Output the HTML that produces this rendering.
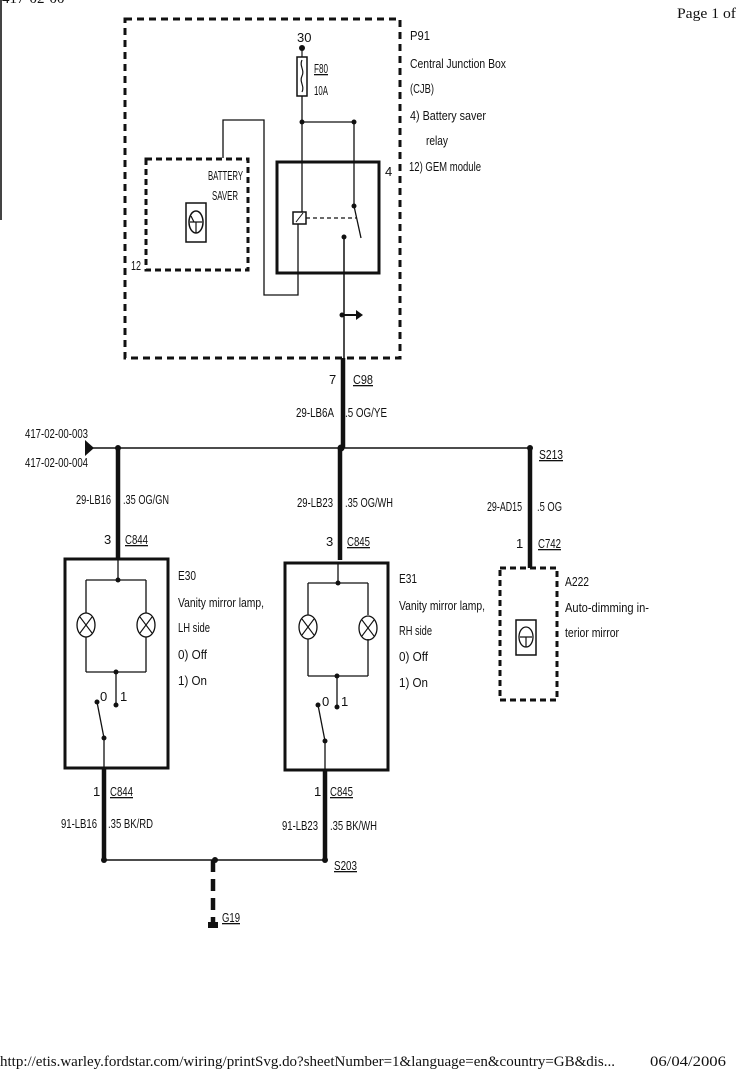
<!DOCTYPE html>
<html><head><meta charset="utf-8"><style>
html,body{margin:0;padding:0;background:#fff;}
svg{display:block;}
text{font-family:"Liberation Sans",sans-serif;font-size:13px;fill:#111;}
.s{font-family:"Liberation Serif",serif;font-size:15px;}
</style></head><body>
<svg width="738" height="1080" viewBox="0 0 738 1080" xmlns="http://www.w3.org/2000/svg">
<rect width="738" height="1080" fill="#fff"/>
<line x1="1" y1="0" x2="1" y2="220" stroke="#444" stroke-width="2"/>
<text class="s" x="2" y="3">417-02-00</text>
<text class="s" x="677" y="18" textLength="59" lengthAdjust="spacingAndGlyphs">Page 1 of</text>

<g stroke="#111" fill="none">
<rect x="125" y="19" width="275" height="339" stroke-width="3" stroke-dasharray="7,5"/>
<rect x="146" y="159" width="102" height="111" stroke-width="3" stroke-dasharray="6,4"/>
<rect x="186" y="203" width="20" height="39" stroke-width="1.5"/>
<ellipse cx="196" cy="222" rx="7" ry="11" stroke-width="1.5"/>
<path d="M190 222h12M196 222v11M191 216l3 6" stroke-width="1.2"/>
<rect x="277" y="162" width="102" height="111" stroke-width="3"/>
<rect x="297" y="57" width="10" height="39" stroke-width="1.5"/>
<path d="M302 49v8M302 60c-3 6 3 10 0 16s3 10 0 16" stroke-width="1.2"/>
<path d="M302 96v116M302 122h52M354 122v84M354 206l7 32" stroke-width="1.3"/>
<rect x="293" y="212" width="13" height="12" stroke-width="1.5"/>
<path d="M296 222l7-9" stroke-width="1"/>
<path d="M306 218h50" stroke-width="1.2" stroke-dasharray="4,3"/>
<path d="M298 224v71h-34v-175h-41v38" stroke-width="1.3"/>
<path d="M344 237v121" stroke-width="1.5"/>
<path d="M342 315h16" stroke-width="2"/>
<path d="M343 358v90" stroke-width="4.5"/>
<path d="M92 448h438" stroke-width="1.5"/>
<path d="M118 448v110M340 448v112M530 448v120" stroke-width="4.5"/>
<rect x="65" y="559" width="103" height="209" stroke-width="3"/>
<path d="M118 559v21M86 580h60M86 580v33M146 580v33M86 637v35M146 637v35M86 672h60M116 672v33M97 702l7 36M104 738v30" stroke-width="1.3"/>
<ellipse cx="86" cy="625" rx="9" ry="12" stroke-width="1.3"/><path d="M80 617l12 16M92 617l-12 16" stroke-width="1.1"/>
<ellipse cx="146" cy="625" rx="9" ry="12" stroke-width="1.3"/><path d="M140 617l12 16M152 617l-12 16" stroke-width="1.1"/>
<rect x="285" y="563" width="103" height="207" stroke-width="3"/>
<path d="M338 563v20M308 583h60M308 583v32M368 583v32M308 639v37M368 639v37M308 676h60M337 676v31M318 705l7 36M325 741v29" stroke-width="1.3"/>
<ellipse cx="308" cy="627" rx="9" ry="12" stroke-width="1.3"/><path d="M302 619l12 16M314 619l-12 16" stroke-width="1.1"/>
<ellipse cx="368" cy="628" rx="9" ry="12" stroke-width="1.3"/><path d="M362 620l12 16M374 620l-12 16" stroke-width="1.1"/>
<rect x="500" y="568" width="57" height="132" stroke-width="3" stroke-dasharray="6,4"/>
<rect x="516" y="620" width="20" height="35" stroke-width="1.5"/>
<ellipse cx="526" cy="637" rx="7" ry="10" stroke-width="1.3"/>
<path d="M520 637h12M526 637v10" stroke-width="1.2"/>
<path d="M104 768v93M325 770v91" stroke-width="4.5"/>
<path d="M104 860h221" stroke-width="1.5"/>
<path d="M213 860v65" stroke-width="4.5" stroke-dasharray="12,7"/>
</g>
<g fill="#111">
<circle cx="302" cy="48" r="3"/><circle cx="302" cy="122" r="2.5"/><circle cx="354" cy="122" r="2.5"/>
<circle cx="354" cy="206" r="2.5"/><circle cx="344" cy="237" r="2.5"/><circle cx="342" cy="315" r="2.5"/>
<path d="M356 310l7 5-7 5z"/>
<path d="M85 440l9 8-9 8z"/>
<circle cx="118" cy="448" r="3"/><circle cx="341" cy="448" r="3.5"/><circle cx="530" cy="448" r="3"/>
<circle cx="118" cy="580" r="2.5"/><circle cx="116" cy="672" r="2.5"/><circle cx="116" cy="705" r="2.5"/><circle cx="97" cy="702" r="2.5"/><circle cx="104" cy="738" r="2.5"/>
<circle cx="338" cy="583" r="2.5"/><circle cx="337" cy="676" r="2.5"/><circle cx="337" cy="707" r="2.5"/><circle cx="318" cy="705" r="2.5"/><circle cx="325" cy="741" r="2.5"/>
<circle cx="104" cy="860" r="3"/><circle cx="215" cy="860" r="3"/><circle cx="325" cy="860" r="3"/>
<rect x="208" y="922" width="10" height="6"/>
</g>
<g lengthAdjust="spacingAndGlyphs">
<text x="297" y="42" font-size="12">30</text>
<text x="314" y="73" font-size="12" textLength="14" lengthAdjust="spacingAndGlyphs" text-decoration="underline">F80</text>
<text x="314" y="95" font-size="12" textLength="14" lengthAdjust="spacingAndGlyphs">10A</text>
<text x="208" y="180" font-size="12" textLength="35" lengthAdjust="spacingAndGlyphs">BATTERY</text>
<text x="212" y="200" font-size="12" textLength="26" lengthAdjust="spacingAndGlyphs">SAVER</text>
<text x="131" y="270" font-size="12" textLength="10" lengthAdjust="spacingAndGlyphs">12</text>
<text x="385" y="176" font-size="12">4</text>
<text x="410" y="40" font-size="15" textLength="20" lengthAdjust="spacingAndGlyphs">P91</text>
<text x="410" y="68" font-size="15" textLength="96" lengthAdjust="spacingAndGlyphs">Central Junction Box</text>
<text x="410" y="93" font-size="15" textLength="24" lengthAdjust="spacingAndGlyphs">(CJB)</text>
<text x="410" y="120" font-size="15" textLength="76" lengthAdjust="spacingAndGlyphs">4)  Battery saver</text>
<text x="426" y="145" font-size="15" textLength="22" lengthAdjust="spacingAndGlyphs">relay</text>
<text x="409" y="171" font-size="15" textLength="72" lengthAdjust="spacingAndGlyphs">12) GEM module</text>
<text x="329" y="384">7</text>
<text x="353" y="384" textLength="20" lengthAdjust="spacingAndGlyphs" text-decoration="underline">C98</text>
<text x="296" y="417" textLength="38" lengthAdjust="spacingAndGlyphs">29-LB6A</text>
<text x="345" y="417" textLength="42" lengthAdjust="spacingAndGlyphs">.5 OG/YE</text>
<text x="25" y="438" textLength="63" lengthAdjust="spacingAndGlyphs">417-02-00-003</text>
<text x="25" y="467" textLength="63" lengthAdjust="spacingAndGlyphs">417-02-00-004</text>
<text x="539" y="459" textLength="24" lengthAdjust="spacingAndGlyphs" text-decoration="underline">S213</text>
<text x="76" y="504" textLength="35" lengthAdjust="spacingAndGlyphs">29-LB16</text>
<text x="123" y="504" textLength="46" lengthAdjust="spacingAndGlyphs">.35 OG/GN</text>
<text x="297" y="507" textLength="36" lengthAdjust="spacingAndGlyphs">29-LB23</text>
<text x="345" y="507" textLength="48" lengthAdjust="spacingAndGlyphs">.35 OG/WH</text>
<text x="487" y="511" textLength="35" lengthAdjust="spacingAndGlyphs">29-AD15</text>
<text x="537" y="511" textLength="25" lengthAdjust="spacingAndGlyphs">.5 OG</text>
<text x="104" y="544">3</text>
<text x="125" y="544" textLength="23" lengthAdjust="spacingAndGlyphs" text-decoration="underline">C844</text>
<text x="326" y="546">3</text>
<text x="347" y="546" textLength="23" lengthAdjust="spacingAndGlyphs" text-decoration="underline">C845</text>
<text x="516" y="548">1</text>
<text x="538" y="548" textLength="23" lengthAdjust="spacingAndGlyphs" text-decoration="underline">C742</text>
<text x="178" y="580" font-size="14" textLength="18" lengthAdjust="spacingAndGlyphs">E30</text>
<text x="178" y="607" font-size="14" textLength="86" lengthAdjust="spacingAndGlyphs">Vanity mirror lamp,</text>
<text x="178" y="632" font-size="14" textLength="32" lengthAdjust="spacingAndGlyphs">LH side</text>
<text x="178" y="659" font-size="14" textLength="29" lengthAdjust="spacingAndGlyphs">0)  Off</text>
<text x="178" y="685" font-size="14" textLength="29" lengthAdjust="spacingAndGlyphs">1)  On</text>
<text x="399" y="583" font-size="14" textLength="18" lengthAdjust="spacingAndGlyphs">E31</text>
<text x="399" y="610" font-size="14" textLength="86" lengthAdjust="spacingAndGlyphs">Vanity mirror lamp,</text>
<text x="399" y="635" font-size="14" textLength="33" lengthAdjust="spacingAndGlyphs">RH side</text>
<text x="399" y="661" font-size="14" textLength="29" lengthAdjust="spacingAndGlyphs">0)  Off</text>
<text x="399" y="687" font-size="14" textLength="29" lengthAdjust="spacingAndGlyphs">1)  On</text>
<text x="565" y="586" font-size="14" textLength="24" lengthAdjust="spacingAndGlyphs">A222</text>
<text x="565" y="612" font-size="14" textLength="84" lengthAdjust="spacingAndGlyphs">Auto-dimming  in-</text>
<text x="565" y="637" font-size="14" textLength="54" lengthAdjust="spacingAndGlyphs">terior mirror</text>
<text x="100" y="701" font-size="11">0</text><text x="120" y="701" font-size="11">1</text>
<text x="322" y="706" font-size="11">0</text><text x="341" y="706" font-size="11">1</text>
<text x="93" y="796">1</text>
<text x="110" y="796" textLength="23" lengthAdjust="spacingAndGlyphs" text-decoration="underline">C844</text>
<text x="314" y="796">1</text>
<text x="330" y="796" textLength="23" lengthAdjust="spacingAndGlyphs" text-decoration="underline">C845</text>
<text x="61" y="828" textLength="36" lengthAdjust="spacingAndGlyphs">91-LB16</text>
<text x="108" y="828" textLength="45" lengthAdjust="spacingAndGlyphs">.35 BK/RD</text>
<text x="282" y="830" textLength="36" lengthAdjust="spacingAndGlyphs">91-LB23</text>
<text x="330" y="830" textLength="47" lengthAdjust="spacingAndGlyphs">.35 BK/WH</text>
<text x="334" y="870" textLength="23" lengthAdjust="spacingAndGlyphs" text-decoration="underline">S203</text>
<text x="222" y="922" textLength="18" lengthAdjust="spacingAndGlyphs" text-decoration="underline">G19</text>
</g>
<text class="s" x="0" y="1066" textLength="615" lengthAdjust="spacingAndGlyphs">http://etis.warley.fordstar.com/wiring/printSvg.do?sheetNumber=1&amp;language=en&amp;country=GB&amp;dis...</text>
<text class="s" x="650" y="1066" textLength="76" lengthAdjust="spacingAndGlyphs">06/04/2006</text>
</svg>
</body></html>
